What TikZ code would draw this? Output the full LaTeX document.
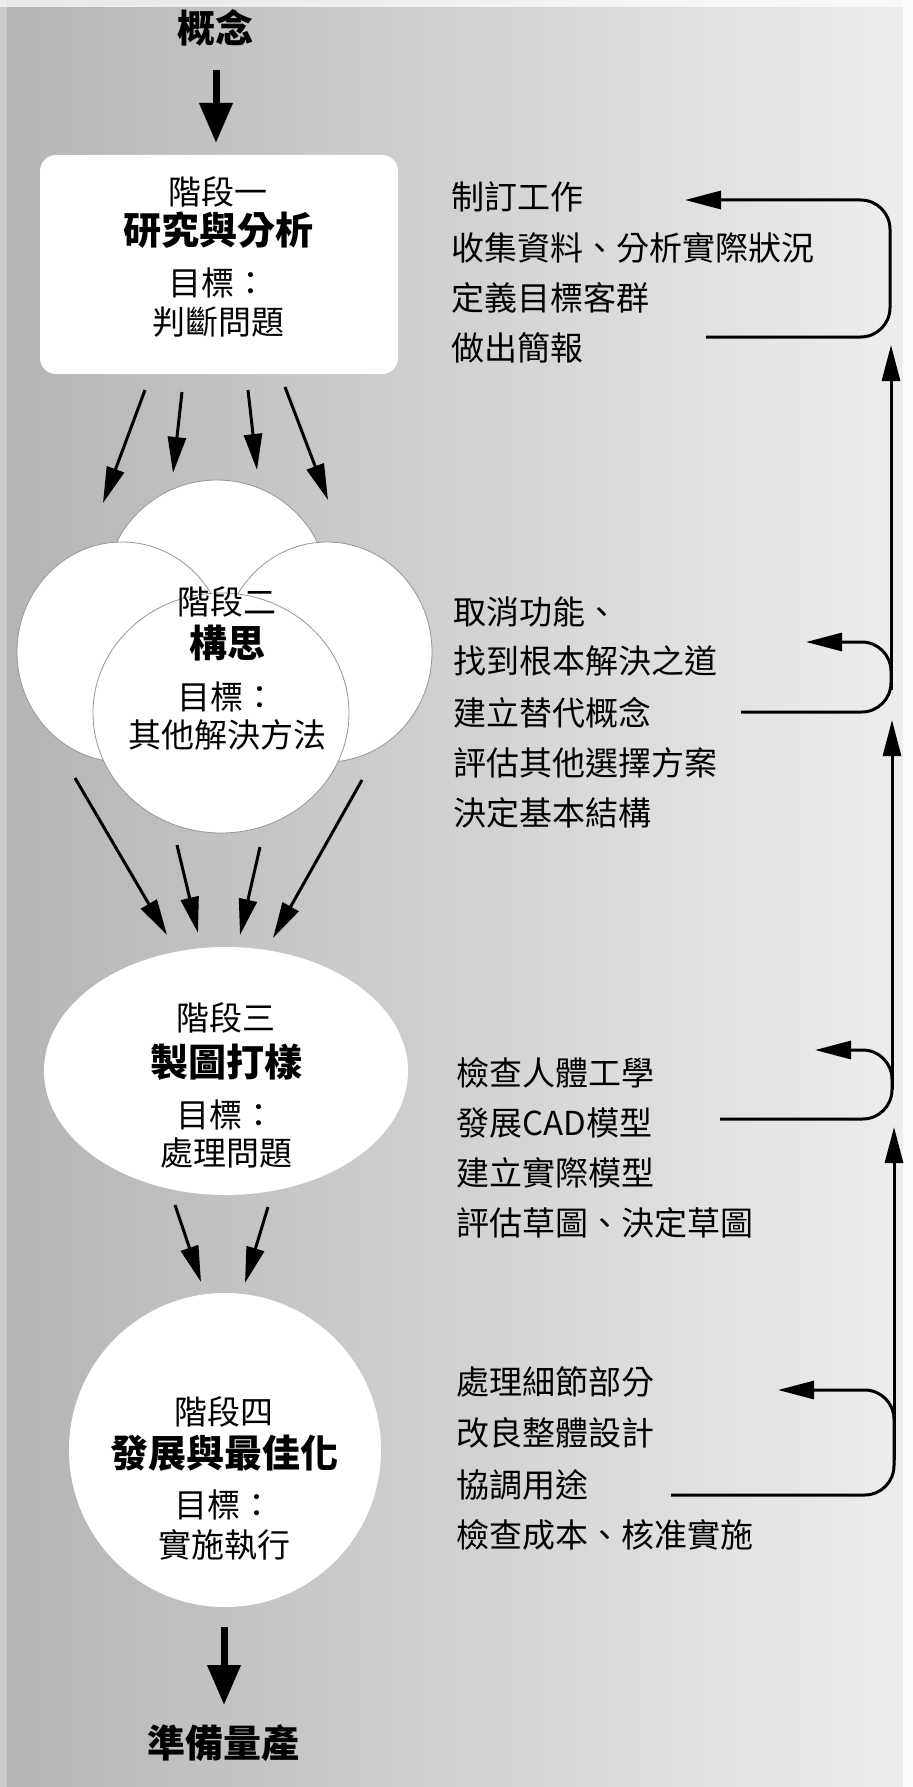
\documentclass[tikz,border=0pt]{standalone}
\usepackage{fontspec}
\setmainfont{Noto Sans CJK TC}
\usetikzlibrary{arrows.meta,shapes.geometric}

\tikzset{
  stagetxt/.style={inner sep=0pt, font=\fontsize{24.75pt}{30pt}\selectfont},
  stagettl/.style={inner sep=0pt, font=\fontsize{28.5pt}{34pt}\selectfont\bfseries},
  itemtxt/.style={anchor=west, inner sep=0pt, font=\fontsize{24.75pt}{30pt}\selectfont},
  stagebox/.style={rectangle, fill=white, rounded corners=12pt, inner sep=0pt},
  bubble/.style={ellipse, draw={rgb, 255:red, 150; green, 150; blue, 150}, line width=0.6pt, fill=white, inner sep=0pt},
  blob/.style={ellipse, fill=white, inner sep=0pt},
  flow/.style={line width=2.25pt, -{Triangle[length=27pt,width=13.5pt]}},
  bigflow/.style={line width=5.25pt, -{Triangle[length=30pt,width=24pt]}},
  fb/.style={line width=2.25pt, rounded corners=22pt, -{Triangle[length=27pt,width=13.5pt]}}
}

\begin{document}
\begin{tikzpicture}[x=0.75pt,y=0.75pt,yscale=-1,xscale=1]
%Background
\useasboundingbox (0,0) rectangle (913,1787);
\shade [left color={rgb, 255:red, 180; green, 180; blue, 180}, right color={rgb, 255:red, 238; green, 238; blue, 238}] (0,0) rectangle (913,1787);
\fill [white, opacity=0.7] (0,0) rectangle (913,7);
\fill [white, opacity=0.3] (0,0) rectangle (7,1787);
\fill [white, opacity=0.8] (903,0) rectangle (913,1787);

%Stage 1: box
\node [stagebox, minimum width={358*0.75pt}, minimum height={219*0.75pt}] (box1) at (219,264.5) {};
%Stage 2: cluster of bubbles
\node [bubble, minimum width={224*0.75pt}, minimum height={224*0.75pt}] (bubtop) at (217,592) {};
\node [bubble, minimum width={210*0.75pt}, minimum height={220*0.75pt}] (bubleft) at (122,652) {};
\node [bubble, minimum width={210*0.75pt}, minimum height={220*0.75pt}] (bubright) at (327,652) {};
\node [bubble, minimum width={256*0.75pt}, minimum height={240*0.75pt}] (bubfront) at (221,713) {};
%Stage 3 and 4: ellipses
\node [blob, minimum width={364*0.75pt}, minimum height={248*0.75pt}] (blob3) at (226,1071) {};
\node [blob, minimum width={312*0.75pt}, minimum height={314*0.75pt}] (blob4) at (225,1450) {};

%Start and end
\node [stagettl] (concept) at (215,28) {概念};
\node [stagettl] (massprod) at (223,1743) {準備量產};

%Stage texts
\node [stagetxt] (s1a) at (218,192) {階段一};
\node [stagettl] (s1b) at (218,230) {研究與分析};
\node [stagetxt] (s1c) at (218,283) {目標：};
\node [stagetxt] (s1d) at (218,322) {判斷問題};

\node [stagetxt] (s2a) at (227,602) {階段二};
\node [stagettl] (s2b) at (227,643) {構思};
\node [stagetxt] (s2c) at (227,697) {目標：};
\node [stagetxt] (s2d) at (227,735) {其他解決方法};

\node [stagetxt] (s3a) at (226,1018) {階段三};
\node [stagettl] (s3b) at (226,1062) {製圖打樣};
\node [stagetxt] (s3c) at (226,1115) {目標：};
\node [stagetxt] (s3d) at (226,1153) {處理問題};

\node [stagetxt] (s4a) at (224,1412) {階段四};
\node [stagettl] (s4b) at (224,1453) {發展與最佳化};
\node [stagetxt] (s4c) at (224,1505) {目標：};
\node [stagetxt] (s4d) at (224,1545) {實施執行};

%Task lists
\node [itemtxt] (t1a) at (451,197) {制訂工作};
\node [itemtxt] (t1b) at (451,248) {收集資料、分析實際狀況};
\node [itemtxt] (t1c) at (451,298) {定義目標客群};
\node [itemtxt] (t1d) at (451,348) {做出簡報};

\node [itemtxt] (t2a) at (453,612) {取消功能、};
\node [itemtxt] (t2b) at (453,661) {找到根本解決之道};
\node [itemtxt] (t2c) at (453,713) {建立替代概念};
\node [itemtxt] (t2d) at (453,763) {評估其他選擇方案};
\node [itemtxt] (t2e) at (453,813) {決定基本結構};

\node [itemtxt] (t3a) at (456,1073) {檢查人體工學};
\node [itemtxt] (t3b) at (456,1123) {發展CAD模型};
\node [itemtxt] (t3c) at (456,1173) {建立實際模型};
\node [itemtxt] (t3d) at (456,1223) {評估草圖、決定草圖};

\node [itemtxt] (t4a) at (456,1382) {處理細節部分};
\node [itemtxt] (t4b) at (456,1433) {改良整體設計};
\node [itemtxt] (t4c) at (456,1485) {協調用途};
\node [itemtxt] (t4d) at (456,1535) {檢查成本、核准實施};

%Arrow ends
\coordinate (c0s) at (216,70);   \coordinate (c0e) at (216,143);
\coordinate (a1s) at (145,390);  \coordinate (a1e) at (103,503);
\coordinate (a2s) at (182,392);  \coordinate (a2e) at (173,473);
\coordinate (a3s) at (248,390);  \coordinate (a3e) at (257,470);
\coordinate (a4s) at (285,387);  \coordinate (a4e) at (328,500);
\coordinate (b1s) at (75,778);   \coordinate (b1e) at (167,935);
\coordinate (b2s) at (177,845);  \coordinate (b2e) at (198,933);
\coordinate (b3s) at (260,847);  \coordinate (b3e) at (240,935);
\coordinate (b4s) at (362,780);  \coordinate (b4e) at (273,938);
\coordinate (d1s) at (175,1205); \coordinate (d1e) at (201,1282);
\coordinate (d2s) at (268,1207); \coordinate (d2e) at (245,1283);
\coordinate (e0s) at (224,1627); \coordinate (e0e) at (224,1705);

%Flow arrows
\draw [bigflow] (c0s) -- (c0e);
\draw [flow] (a1s) -- (a1e);
\draw [flow] (a2s) -- (a2e);
\draw [flow] (a3s) -- (a3e);
\draw [flow] (a4s) -- (a4e);
\draw [flow] (b1s) -- (b1e);
\draw [flow] (b2s) -- (b2e);
\draw [flow] (b3s) -- (b3e);
\draw [flow] (b4s) -- (b4e);
\draw [flow] (d1s) -- (d1e);
\draw [flow] (d2s) -- (d2e);
\draw [bigflow] (e0s) -- (e0e);

%Feedback loops
\coordinate (l1t) at (706,337);  \coordinate (l1h) at (685,200);
\coordinate (l2t) at (741,712);  \coordinate (l2h) at (806,642);
\coordinate (l3t) at (720,1119); \coordinate (l3h) at (815,1050);
\coordinate (l4t) at (671,1495); \coordinate (l4h) at (778,1390);
\draw [fb] (l1t) -- (890,337) -- (890,200) -- (l1h);
\draw [fb] (l2t) -- (891,712) -- (891,642) -- (l2h);
\draw [fb] (l3t) -- (892,1119) -- (892,1050) -- (l3h);
\draw [fb] (l4t) -- (894,1495) -- (894,1390) -- (l4h);

%Upward lines
\coordinate (u1s) at (891,690);  \coordinate (u1e) at (891,345);
\coordinate (u2s) at (892,1090); \coordinate (u2e) at (892,720);
\coordinate (u3s) at (894,1460); \coordinate (u3e) at (894,1127);
\draw [flow] (u1s) -- (u1e);
\draw [flow] (u2s) -- (u2e);
\draw [flow] (u3s) -- (u3e);

\end{tikzpicture}
\end{document}
